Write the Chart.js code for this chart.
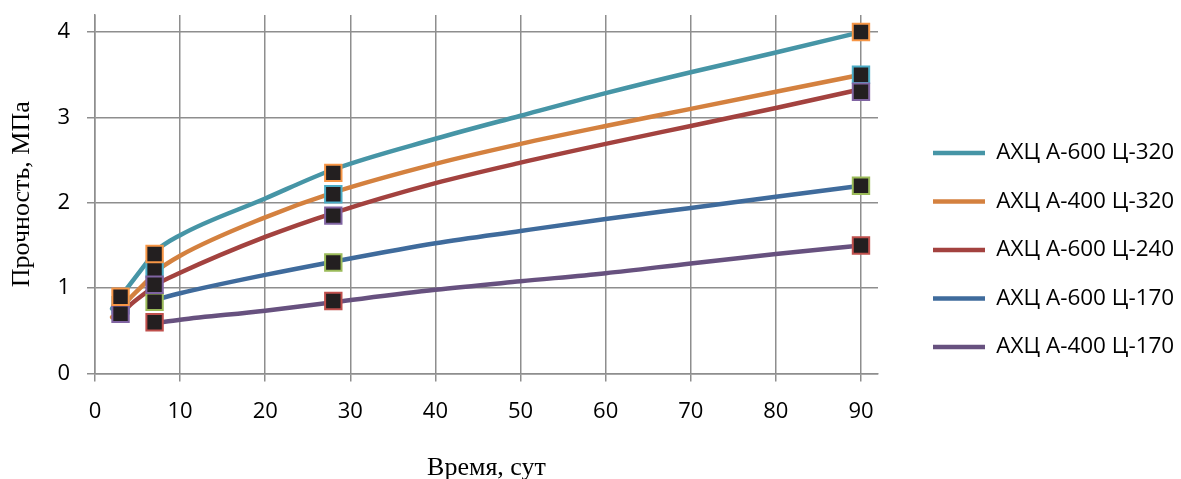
<!DOCTYPE html>
<html lang="ru">
<head>
<meta charset="utf-8">
<script src="https://cdn.jsdelivr.net/npm/chart.js@4/dist/chart.umd.min.js"></script>
<style>
  html, body { margin: 0; padding: 0; background: #ffffff; }
  #wrap { width: 1181px; height: 479px; }
</style>
</head>
<body>
<div id="wrap"><canvas id="c" width="1181" height="479"></canvas></div>
<script>
// Series names (mix compositions)
const seriesNames = ['АХЦ А-600 Ц-320', 'АХЦ А-400 Ц-320', 'АХЦ А-600 Ц-240', 'АХЦ А-600 Ц-170', 'АХЦ А-400 Ц-170'];

// Measured strength, MPa, at test ages (days)
const testDays = [3, 7, 28, 90];
const measured600_320 = [0.9, 1.4, 2.35, 4.0];
const measured400_320 = [0.8, 1.22, 2.1, 3.5];
const measured600_240 = [0.7, 1.04, 1.85, 3.3];
const measured600_170 = [null, 0.84, 1.3, 2.2];
const measured400_170 = [null, 0.6, 0.85, 1.5];

// Strength-gain curves, MPa, by age (days)
const curveDays = [2, 3, 4, 6, 7, 10, 20, 28, 40, 50, 60, 70, 80, 90];
const curve600_320 = [0.76, 0.9, 1.03, 1.29, 1.42, 1.62, 2.05, 2.39, 2.75, 3.02, 3.285, 3.53, 3.76, 4.0];
const curve400_320 = [0.66, 0.75, 0.87, 1.07, 1.18, 1.38, 1.83, 2.12, 2.456, 2.69, 2.9, 3.1, 3.3, 3.5];
const curve600_240 = [null, 0.68, 0.79, 0.95, 1.03, 1.18, 1.6, 1.88, 2.23, 2.47, 2.69, 2.9, 3.11, 3.33];
const curve600_170 = [null, null, null, null, 0.86, 0.94, 1.155, 1.31, 1.526, 1.67, 1.81, 1.94, 2.07, 2.2];
const curve400_170 = [null, null, null, null, 0.59, 0.63, 0.736, 0.835, 0.98, 1.08, 1.175, 1.29, 1.4, 1.5];

// Axis ticks
const xTicks = [0, 10, 20, 30, 40, 50, 60, 70, 80, 90];
const yTicks = [0, 1, 2, 3, 4];

const curveColors = ['#4695A6', '#D4813F', '#A3423F', '#3F6B9C', '#67517F'];
const markerColors = ['#F79646', '#4BACC6', '#8064A2', '#9BBB59', '#C0504D'];
const markerOrder = [1, 5, 2, 3, 4];

const curves = [curve600_320, curve400_320, curve600_240, curve600_170, curve400_170];
const measured = [measured600_320, measured400_320, measured600_240, measured600_170, measured400_170];

const toPoints = (xs, ys) => xs.map((x, i) => ({ x, y: ys[i] })).filter(p => p.y !== null);

const gridColor = '#8e8e8e';
const tickFont = { family: '"Open Sans"', size: 22 };
const legendFont = { family: '"Open Sans"', size: 22.5 };
const titleFont = { family: '"Liberation Serif"', size: 26 };

// Legend geometry: line sample starts at x = 933, plot area ends at x = 878
const legendPad = 26, legendBox = 52, plotRight = 878;
const mctx = document.createElement('canvas').getContext('2d');
mctx.font = legendFont.size + 'px "Open Sans"';
const maxTextW = Math.max(...seriesNames.map(n => mctx.measureText(n).width));
const legendW = legendPad + legendBox + legendFont.size / 2 + maxTextW + 10;
const legendLeft = 933 - legendPad;
const padRight = 1181 - legendLeft - legendW;

const datasets = [];
curves.forEach((vals, i) => {
  datasets.push({
    label: seriesNames[i],
    data: toPoints(curveDays, vals),
    showLine: true,
    borderColor: curveColors[i],
    backgroundColor: curveColors[i],
    borderWidth: 4.5,
    borderCapStyle: 'round',
    borderJoinStyle: 'round',
    cubicInterpolationMode: 'monotone',
    pointRadius: 0,
    pointHoverRadius: 0,
    pointStyle: 'line',
    order: 10
  });
});
measured.forEach((vals, i) => {
  datasets.push({
    label: seriesNames[i] + ' ',
    data: toPoints(testDays, vals),
    showLine: false,
    pointStyle: 'rect',
    pointRadius: 11.6,
    pointHoverRadius: 11.6,
    pointBackgroundColor: '#231F20',
    pointBorderColor: markerColors[i],
    pointBorderWidth: 2,
    order: markerOrder[i]
  });
});

const noScalePadding = (s) => { s.paddingTop = 0; s.paddingBottom = 0; s.paddingLeft = 0; s.paddingRight = 0; };

new Chart(document.getElementById('c'), {
  type: 'scatter',
  data: { datasets },
  options: {
    responsive: false,
    devicePixelRatio: 1,
    animation: false,
    layout: { padding: { left: 0, top: 15, bottom: -6, right: padRight } },
    plugins: {
      tooltip: { enabled: false },
      legend: {
        position: 'right',
        align: 'center',
        maxWidth: 600,
        labels: {
          filter: (item) => item.datasetIndex < 5,
          usePointStyle: true,
          pointStyleWidth: legendBox,
          padding: legendPad,
          color: '#000000',
          font: legendFont
        }
      }
    },
    scales: {
      x: {
        type: 'linear',
        min: 0,
        max: 92,
        afterBuildTicks: (s) => { s.ticks = xTicks.map(v => ({ value: v })); },
        afterFit: (s) => { s.height = 111.5; noScalePadding(s); },
        ticks: { color: '#000000', font: tickFont, padding: 17, maxRotation: 0 },
        grid: { color: gridColor, lineWidth: 1.5, tickLength: 8, tickColor: gridColor },
        border: { color: gridColor, width: 1.5 },
        title: { display: true, text: 'Время, сут', color: '#000000', font: titleFont, padding: { top: 0, bottom: 1 } }
      },
      y: {
        type: 'linear',
        min: 0,
        max: 4.2,
        afterBuildTicks: (s) => { s.ticks = yTicks.map(v => ({ value: v })); },
        afterFit: (s) => { s.width = 95; noScalePadding(s); },
        ticks: { color: '#000000', font: tickFont, padding: 17 },
        grid: { color: gridColor, lineWidth: 1.5, tickLength: 8, tickColor: gridColor },
        border: { color: gridColor, width: 1.5 },
        title: { display: true, text: 'Прочность, МПа', color: '#000000', font: titleFont, padding: { top: 7, bottom: 0 } }
      },
      pad: {
        type: 'linear',
        position: 'right',
        display: true,
        afterFit: (s) => { s.width = legendLeft - plotRight; noScalePadding(s); },
        ticks: { display: false },
        grid: { display: false },
        border: { display: false }
      }
    }
  }
});
</script>
</body>
</html>
